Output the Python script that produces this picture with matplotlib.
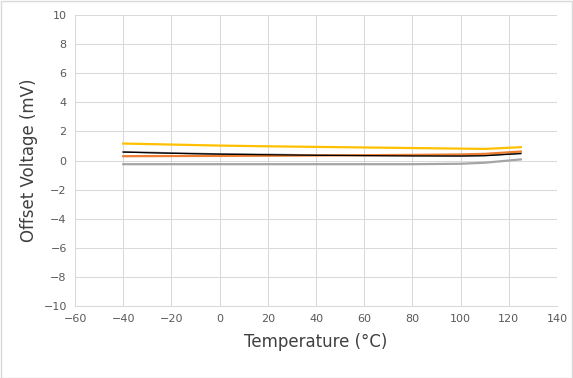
import matplotlib
matplotlib.use("Agg")
import matplotlib.pyplot as plt
import numpy as np

temp = [-40, -20, 0, 20, 40, 60, 80, 100, 110, 125]
yellow = [1.17, 1.10, 1.03, 0.98, 0.94, 0.90, 0.86, 0.82, 0.80, 0.92]
black = [0.58, 0.50, 0.44, 0.40, 0.36, 0.34, 0.32, 0.31, 0.33, 0.48]
darkgray = [0.60, 0.52, 0.45, 0.42, 0.38, 0.36, 0.34, 0.33, 0.36, 0.50]
orange = [0.30, 0.31, 0.32, 0.33, 0.35, 0.37, 0.39, 0.42, 0.46, 0.62]
gray = [-0.25, -0.25, -0.25, -0.25, -0.25, -0.25, -0.25, -0.22, -0.15, 0.08]

fig = plt.figure(figsize=(5.73, 3.78), dpi=100)
ax = fig.add_axes([0.131, 0.1905, 0.841, 0.7695])

ax.plot(temp, gray, color="#a5a5a5", lw=1.6)
ax.plot(temp, darkgray, color="#7f7f7f", lw=1.2)
ax.plot(temp, orange, color="#ed7d31", lw=1.6)
ax.plot(temp, black, color="#000000", lw=0.9)
ax.plot(temp, yellow, color="#ffc000", lw=1.6)

ax.set_xlim(-60, 140)
ax.set_ylim(-10, 10)
ax.set_xticks(np.arange(-60, 141, 20))
ax.set_yticks(np.arange(-10, 11, 2))
ax.grid(True, color="#d9d9d9", lw=0.75)
ax.set_axisbelow(True)
for s in ax.spines.values():
    s.set_visible(False)
ax.spines["left"].set_visible(True)
ax.spines["bottom"].set_visible(True)
ax.spines["left"].set_color("#d9d9d9")
ax.spines["bottom"].set_color("#d9d9d9")
ax.spines["left"].set_linewidth(0.75)
ax.spines["bottom"].set_linewidth(0.75)
ax.tick_params(length=0, labelsize=8, colors="#595959", pad=6)

ax.set_xlabel("Temperature (°C)", fontsize=12, color="#404040", labelpad=6)
ax.set_ylabel("Offset Voltage (mV)", fontsize=12, color="#404040", labelpad=4)

fig.patches.append(plt.Rectangle((0.001, 0.001), 0.997, 0.997, transform=fig.transFigure,
                                 fill=False, edgecolor="#d9d9d9", lw=1))
fig.savefig("out.png", dpi=100)
